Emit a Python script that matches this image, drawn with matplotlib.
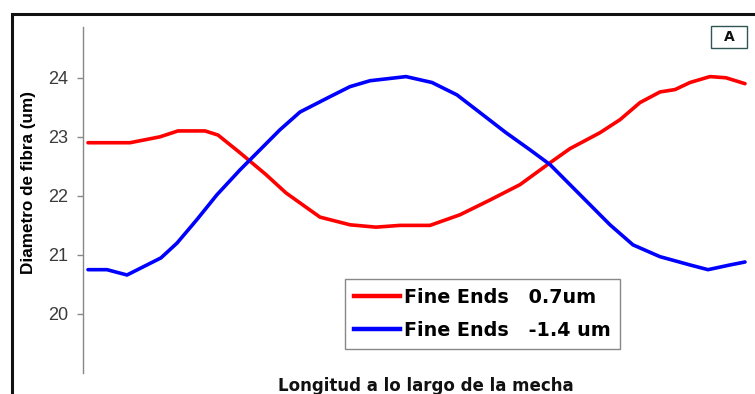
import matplotlib
matplotlib.use("Agg")
import matplotlib.pyplot as plt
from matplotlib.patches import Rectangle
from matplotlib.lines import Line2D

# ---- data (positions along the sliver, arbitrary units) ----
red_x = [0, 2.1, 3.6, 4.5, 5.85, 6.5, 7.6, 8.9, 9.9, 11.1, 11.6, 13.1, 14.4, 15.6,
         17.1, 18.6, 20.1, 21.6, 23.1, 24.1, 25.6, 26.6, 27.6, 28.6, 29.35, 30.1,
         31.1, 31.9, 32.85]
red_y = [22.90, 22.90, 23.00, 23.10, 23.10, 23.03, 22.73, 22.36, 22.05, 21.76, 21.64,
         21.51, 21.47, 21.50, 21.50, 21.68, 21.93, 22.19, 22.56, 22.80, 23.07, 23.29,
         23.58, 23.76, 23.80, 23.92, 24.02, 24.00, 23.90]

blue_x = [0, 0.95, 1.95, 3.65, 4.45, 5.45, 6.45, 7.6, 8.6, 9.6, 10.6, 12.1, 13.1, 14.1,
          15.9, 17.2, 18.45, 19.6, 20.9, 22.1, 23.1, 24.1, 25.1, 26.1, 27.25, 28.6,
          30.1, 31.0, 32.1, 32.85]
blue_y = [20.75, 20.75, 20.66, 20.95, 21.20, 21.60, 22.02, 22.44, 22.78, 23.12, 23.42,
          23.68, 23.85, 23.95, 24.02, 23.92, 23.71, 23.41, 23.07, 22.78, 22.53, 22.19,
          21.85, 21.51, 21.17, 20.97, 20.83, 20.75, 20.83, 20.88]

labels = ["Fine Ends   0.7um", "Fine Ends   -1.4 um"]
y_ticks = [20, 21, 22, 23, 24]
x_label = "Longitud a lo largo de la mecha"
y_label = "Diametro de fibra (um)"
panel_tag = "A"

W, H = 755, 394
fig = plt.figure(figsize=(W / 100, H / 100), dpi=100)
fig.patch.set_facecolor("white")

ax = fig.add_axes([83 / W, 1 - 373 / H, (752 - 83) / W, (373 - 27) / H])
ax.set_facecolor("none")
ax.plot(red_x, red_y, color="#ff0000", lw=2.6, solid_capstyle="round",
        solid_joinstyle="round")
ax.plot(blue_x, blue_y, color="#0000ff", lw=2.6, solid_capstyle="round",
        solid_joinstyle="round")

ax.set_xlim(-0.25, 33.2)
ax.set_ylim(19.0, 24.86)
ax.set_yticks(y_ticks)
ax.set_yticklabels([str(t) for t in y_ticks], family="Liberation Sans", fontsize=13,
                   color="#3a3a3a")
ax.set_xticks([])
for s in ["top", "right", "bottom"]:
    ax.spines[s].set_visible(False)
ax.spines["left"].set_color("#888888")
ax.spines["left"].set_linewidth(1.0)
ax.tick_params(axis="y", direction="out", length=4.5, width=1, color="#888888", pad=6)

# legend
h1 = Line2D([], [], color="#ff0000", lw=3.2)
h2 = Line2D([], [], color="#0000ff", lw=3.2)
leg = fig.legend([h1, h2], labels, loc="upper left",
                 bbox_to_anchor=(345 / W, 1 - 279 / H), bbox_transform=fig.transFigure,
                 borderaxespad=0, fancybox=False, framealpha=1, edgecolor="#888888",
                 prop={"family": "DejaVu Sans", "weight": "bold", "size": 13.8},
                 handlelength=2.4, handletextpad=0.25, borderpad=0.45, labelspacing=0.75)
leg.get_frame().set_linewidth(1.0)

# axis labels
fig.text(425.5 / W, 1 - 391 / H, x_label, ha="center", va="baseline",
         family="DejaVu Sans", weight="bold", fontsize=12, color="#111111")
fig.text(29 / W, 1 - 183 / H, y_label, ha="center", va="center", rotation=90,
         family="Liberation Sans", weight="bold", fontsize=12.3, color="#000000")

# panel tag
fig.add_artist(Rectangle((711 / W, 1 - 48 / H), 36 / W, 22 / H, transform=fig.transFigure,
                         fill=False, edgecolor="#2f5555", lw=1.0))
fig.text(729 / W, 1 - 37 / H, panel_tag, ha="center", va="center",
         family="DejaVu Sans", weight="bold", fontsize=10, color="#111111")

# outer frame
fig.add_artist(Rectangle((11.5 / W, -0.2), 1.3, (1 - 13.8 / H) + 0.2,
                         transform=fig.transFigure, fill=False, edgecolor="#111111",
                         lw=2.2, clip_on=False))

fig.savefig("out.png", dpi=100, facecolor="white")
